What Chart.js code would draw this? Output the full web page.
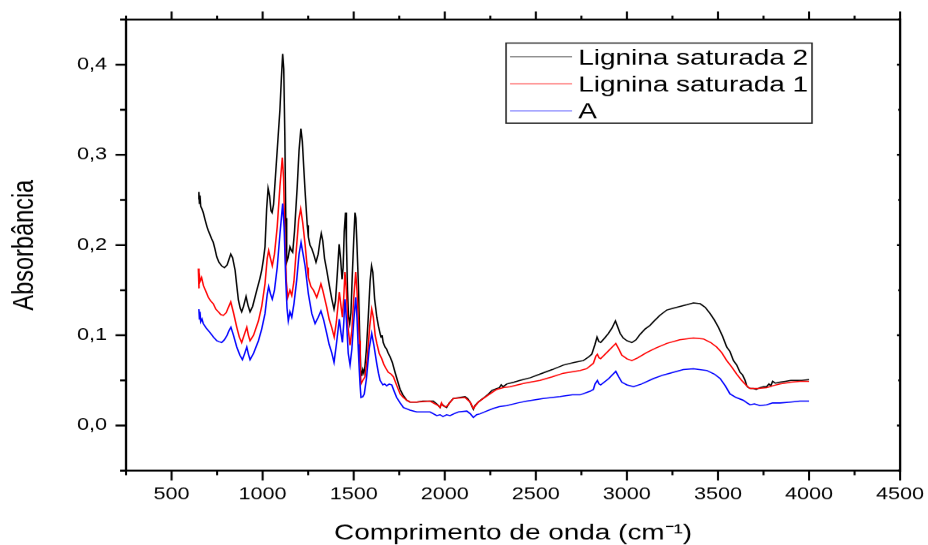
<!DOCTYPE html>
<html>
<head>
<meta charset="utf-8">
<script src="https://cdn.jsdelivr.net/npm/chart.js@4.4.0/dist/chart.umd.min.js"></script>
<style>
  html, body { margin: 0; padding: 0; background: #fff; overflow: hidden; }
  /* the plot is drawn narrow and stretched sideways */
  #wrap { width: 731px; height: 545px; transform: scaleX(1.2695); transform-origin: 0 0; }
</style>
</head>
<body>
<div id="wrap"><canvas id="myChart" width="731" height="545"></canvas></div>
<script>
// espectros FTIR: numero de onda (cm-1) e absorbancia
var sat2Wave = [647,650,653,656,660,667,674,684,695,702,710,720,729,738,748,760,775,790,805,815,825,835,849,858,867,877,885,895,909,920,931,945,968,985,995,1005,1013,1022,1030,1038,1046,1052,1060,1070,1085,1095,1103,1110,1116,1122,1127,1132,1140,1150,1158,1165,1175,1190,1200,1210,1218,1226,1233,1245,1251,1260,1270,1280,1293,1305,1315,1322,1330,1340,1352,1362,1370,1380,1392,1400,1410,1420,1428,1436,1442,1448,1455,1460,1466,1472,1478,1485,1492,1500,1507,1512,1518,1526,1533,1539,1544,1550,1556,1562,1570,1580,1590,1598,1605,1615,1627,1636,1645,1650,1656,1662,1672,1680,1690,1700,1712,1727,1740,1755,1770,1791,1809,1846,1880,1919,1937,1955,1965,1974,1982,1989,2000,2010,2025,2047,2080,2111,2125,2139,2150,2157,2165,2184,2210,2240,2260,2285,2300,2310,2320,2340,2380,2413,2470,2523,2590,2651,2710,2761,2790,2807,2825,2836,2846,2856,2878,2898,2918,2937,2950,2963,2980,3000,3027,3050,3072,3100,3127,3145,3180,3219,3255,3292,3330,3365,3402,3430,3457,3480,3502,3525,3548,3566,3585,3603,3621,3635,3649,3658,3667,3680,3694,3710,3731,3750,3767,3780,3790,3800,3815,3841,3870,3900,3930,3960,4000];
var sat2Abs = [0.251,0.259,0.246,0.255,0.243,0.240,0.236,0.228,0.220,0.216,0.212,0.207,0.203,0.196,0.187,0.181,0.177,0.175,0.178,0.184,0.190,0.186,0.172,0.155,0.139,0.130,0.126,0.132,0.143,0.133,0.126,0.132,0.150,0.163,0.172,0.185,0.198,0.240,0.263,0.255,0.238,0.236,0.245,0.275,0.320,0.350,0.385,0.412,0.395,0.320,0.230,0.181,0.186,0.198,0.194,0.192,0.215,0.265,0.305,0.329,0.315,0.285,0.260,0.222,0.209,0.200,0.196,0.190,0.181,0.190,0.205,0.213,0.205,0.185,0.172,0.160,0.151,0.140,0.129,0.138,0.168,0.201,0.185,0.162,0.175,0.215,0.236,0.205,0.150,0.120,0.113,0.125,0.165,0.205,0.236,0.230,0.200,0.155,0.100,0.061,0.055,0.062,0.058,0.066,0.085,0.120,0.160,0.177,0.170,0.140,0.120,0.110,0.102,0.098,0.100,0.092,0.087,0.085,0.080,0.076,0.070,0.059,0.050,0.040,0.034,0.028,0.026,0.026,0.027,0.027,0.027,0.024,0.022,0.020,0.024,0.023,0.021,0.020,0.025,0.030,0.031,0.032,0.030,0.026,0.021,0.018,0.022,0.026,0.030,0.035,0.039,0.041,0.042,0.045,0.043,0.046,0.048,0.050,0.053,0.057,0.062,0.067,0.070,0.072,0.076,0.079,0.090,0.098,0.093,0.092,0.097,0.102,0.108,0.116,0.109,0.102,0.097,0.094,0.092,0.095,0.101,0.107,0.111,0.115,0.122,0.128,0.130,0.132,0.134,0.136,0.135,0.131,0.124,0.117,0.109,0.099,0.087,0.082,0.072,0.067,0.059,0.056,0.050,0.044,0.042,0.041,0.041,0.040,0.042,0.043,0.043,0.046,0.044,0.049,0.047,0.048,0.049,0.050,0.050,0.050,0.051];

var sat1Wave = [647,649,652,657,665,675,690,702,715,729,743,757,770,784,800,812,825,840,858,872,885,898,913,922,931,950,977,995,1013,1025,1033,1042,1053,1065,1080,1095,1108,1115,1122,1130,1138,1150,1160,1172,1185,1198,1209,1220,1233,1245,1251,1265,1279,1297,1310,1320,1330,1352,1365,1379,1393,1405,1421,1430,1438,1445,1452,1460,1468,1480,1490,1500,1511,1518,1525,1531,1536,1540,1550,1562,1575,1588,1599,1608,1618,1627,1640,1654,1665,1675,1690,1705,1718,1737,1755,1773,1791,1809,1846,1919,1965,1974,1982,1989,2000,2010,2047,2111,2139,2157,2184,2240,2285,2320,2359,2440,2523,2590,2651,2743,2779,2816,2830,2838,2847,2856,2900,2939,2955,2972,3000,3027,3060,3109,3160,3219,3290,3365,3420,3460,3493,3520,3548,3575,3603,3630,3658,3675,3694,3720,3767,3800,3841,3900,3950,4000];
var sat1Abs = [0.174,0.152,0.170,0.160,0.164,0.155,0.148,0.142,0.138,0.135,0.129,0.126,0.123,0.122,0.125,0.131,0.137,0.125,0.109,0.098,0.092,0.100,0.109,0.100,0.094,0.100,0.116,0.132,0.157,0.185,0.194,0.186,0.177,0.190,0.220,0.265,0.297,0.275,0.210,0.160,0.142,0.150,0.144,0.160,0.195,0.228,0.240,0.225,0.201,0.175,0.164,0.154,0.150,0.142,0.150,0.157,0.150,0.131,0.118,0.109,0.098,0.115,0.148,0.133,0.120,0.140,0.170,0.150,0.110,0.089,0.105,0.140,0.170,0.150,0.120,0.094,0.065,0.046,0.050,0.054,0.075,0.110,0.129,0.120,0.100,0.091,0.080,0.074,0.068,0.064,0.059,0.057,0.054,0.044,0.035,0.031,0.028,0.026,0.026,0.027,0.022,0.020,0.025,0.022,0.021,0.021,0.030,0.031,0.026,0.019,0.026,0.034,0.040,0.042,0.043,0.047,0.050,0.054,0.058,0.061,0.063,0.069,0.077,0.079,0.075,0.074,0.083,0.091,0.085,0.078,0.074,0.072,0.075,0.081,0.086,0.091,0.095,0.097,0.096,0.092,0.087,0.081,0.072,0.065,0.057,0.050,0.044,0.041,0.041,0.041,0.042,0.044,0.046,0.048,0.049,0.049];

var aWave = [650,653,656,660,667,674,690,711,730,748,760,775,790,805,815,826,840,858,875,889,900,913,922,931,950,977,995,1013,1025,1033,1043,1053,1065,1080,1095,1110,1118,1127,1134,1141,1150,1160,1172,1187,1200,1211,1222,1233,1251,1270,1288,1305,1320,1335,1352,1365,1379,1392,1405,1421,1430,1438,1445,1452,1460,1470,1480,1490,1500,1511,1518,1524,1529,1535,1540,1550,1558,1570,1585,1599,1610,1627,1636,1645,1660,1670,1681,1695,1709,1722,1736,1755,1773,1809,1846,1919,1956,1974,1990,2010,2029,2050,2075,2121,2140,2157,2175,2194,2230,2267,2300,2340,2400,2450,2540,2633,2700,2743,2798,2816,2825,2838,2847,2856,2900,2939,2955,2972,3000,3036,3080,3145,3200,3255,3310,3365,3438,3480,3512,3540,3566,3600,3639,3660,3676,3700,3730,3767,3800,3841,3900,3950,4000];
var aAbs = [0.129,0.118,0.126,0.115,0.118,0.113,0.108,0.103,0.098,0.094,0.093,0.092,0.095,0.100,0.105,0.109,0.100,0.087,0.078,0.073,0.079,0.087,0.079,0.073,0.080,0.094,0.107,0.124,0.145,0.154,0.146,0.140,0.150,0.175,0.212,0.246,0.220,0.161,0.130,0.116,0.126,0.120,0.135,0.161,0.190,0.203,0.190,0.177,0.146,0.124,0.113,0.120,0.127,0.117,0.102,0.090,0.081,0.070,0.090,0.118,0.103,0.092,0.112,0.140,0.118,0.080,0.067,0.085,0.115,0.142,0.120,0.090,0.068,0.045,0.031,0.032,0.035,0.052,0.085,0.102,0.090,0.068,0.058,0.050,0.045,0.046,0.044,0.046,0.045,0.038,0.031,0.025,0.020,0.017,0.015,0.015,0.011,0.012,0.010,0.012,0.011,0.013,0.015,0.016,0.013,0.009,0.012,0.013,0.016,0.019,0.021,0.022,0.025,0.027,0.030,0.032,0.034,0.034,0.038,0.040,0.046,0.050,0.046,0.045,0.052,0.060,0.054,0.048,0.045,0.043,0.046,0.052,0.056,0.059,0.062,0.063,0.061,0.057,0.052,0.044,0.035,0.031,0.028,0.025,0.023,0.024,0.022,0.023,0.025,0.025,0.026,0.027,0.027];

var seriesNames = ['Lignina saturada 2', 'Lignina saturada 1', 'A'];
var seriesColors = ['#000000', '#ff0000', '#0000ff'];

function toPoints(xs, ys) {
    return xs.map(function (v, i) { return { x: v, y: ys[i] }; });
}

var fontFam = "'Liberation Sans', Arial, sans-serif";

// moldura com marcas e a legenda dentro do grafico
var frameAndLegend = {
    id: 'frameAndLegend',
    afterDraw: function (chart) {
        var ctx = chart.ctx, a = chart.chartArea;
        var sx = chart.scales.x, sy = chart.scales.y;
        ctx.save();
        ctx.strokeStyle = '#000';

        ctx.lineWidth = 1.6;
        sx.ticks.forEach(function (t) {
            var px = sx.getPixelForValue(t.value);
            var major = t.value % 500 === 0;
            ctx.beginPath();
            ctx.moveTo(px, a.bottom); ctx.lineTo(px, a.bottom + (major ? 10 : 4.5));
            ctx.moveTo(px, a.top); ctx.lineTo(px, a.top - (major ? 8 : 4));
            ctx.stroke();
        });
        ctx.lineWidth = 2;
        sy.ticks.forEach(function (t) {
            var py = sy.getPixelForValue(t.value);
            var major = Math.round(t.value * 100) % 10 === 0;
            ctx.beginPath();
            ctx.moveTo(a.left, py); ctx.lineTo(a.left - (major ? 8.3 : 4.7), py);
            ctx.moveTo(a.right, py); ctx.lineTo(a.right - (major ? 2.5 : 1.5), py);
            ctx.stroke();
        });

        ctx.lineWidth = 1.8;
        ctx.strokeRect(a.left, a.top, a.right - a.left, a.bottom - a.top);

        // legenda
        var bx = 398.6, by = 43, bw = 241, bh = 80;
        ctx.fillStyle = '#fff';
        ctx.fillRect(bx, by, bw, bh);
        ctx.lineWidth = 1.2;
        ctx.strokeStyle = '#222';
        ctx.strokeRect(bx, by, bw, bh);
        ctx.font = '22px ' + fontFam;
        ctx.textBaseline = 'alphabetic';
        ctx.textAlign = 'left';
        chart.data.datasets.forEach(function (ds, i) {
            var ly = 56.7 + i * 27;
            ctx.strokeStyle = ds.borderColor;
            ctx.lineWidth = 1;
            ctx.globalAlpha = 0.6;
            ctx.beginPath();
            ctx.moveTo(401.7, ly); ctx.lineTo(450.6, ly);
            ctx.stroke();
            ctx.globalAlpha = 1;
            ctx.fillStyle = '#000';
            ctx.fillText(ds.label, 455.5, ly + 7.8);
        });
        ctx.restore();
    }
};

var ctx = document.getElementById('myChart').getContext('2d');
var ftirChart = new Chart(ctx, {
    type: 'line',
    data: {
        datasets: [
            { label: seriesNames[0], data: toPoints(sat2Wave, sat2Abs), borderColor: seriesColors[0], order: 2 },
            { label: seriesNames[1], data: toPoints(sat1Wave, sat1Abs), borderColor: seriesColors[1], order: 1 },
            { label: seriesNames[2], data: toPoints(aWave, aAbs), borderColor: seriesColors[2], order: 0 }
        ]
    },
    options: {
        responsive: false,
        animation: false,
        devicePixelRatio: 1.2695,
        layout: { padding: { top: 19.5, right: 22, left: 0, bottom: 0 } },
        elements: {
            point: { radius: 0 },
            line: { borderWidth: 1.2, tension: 0, fill: false }
        },
        plugins: { legend: { display: false }, tooltip: { enabled: false } },
        scales: {
            x: {
                type: 'linear',
                min: 250,
                max: 4500,
                afterFit: function (s) {
                    s.height = 75;
                    s.paddingLeft = 0;
                    s.paddingRight = 0;
                },
                grid: { display: false, drawTicks: false },
                border: { display: false },
                ticks: {
                    stepSize: 250,
                    autoSkip: false,
                    maxRotation: 0,
                    padding: 14,
                    color: '#000',
                    font: { family: fontFam, size: 17 },
                    callback: function (v) { return v % 500 === 0 ? String(v) : ''; }
                },
                title: {
                    display: true,
                    text: 'Comprimento de onda (cm\u207B\u00B9)',
                    color: '#000',
                    font: { family: fontFam, size: 22, lineHeight: 1.1 },
                    padding: { top: 4, bottom: 0 }
                }
            },
            y: {
                min: -0.05,
                max: 0.45,
                afterFit: function (s) {
                    s.width = 99.25;
                    s.paddingTop = 0;
                    s.paddingBottom = 0;
                },
                grid: { display: false, drawTicks: false },
                border: { display: false },
                ticks: {
                    stepSize: 0.05,
                    autoSkip: false,
                    padding: 15,
                    color: '#000',
                    font: { family: fontFam, size: 17 },
                    callback: function (v) {
                        var k = Math.round(v * 100);
                        if (k % 10 !== 0 || k < 0) return '';
                        return (k / 100).toFixed(1).replace('.', ',');
                    }
                },
                title: {
                    display: true,
                    text: 'Absorbância',
                    color: '#000',
                    font: { family: fontFam, size: 23.5 },
                    padding: { top: 5.5, bottom: 0 }
                }
            }
        }
    },
    plugins: [frameAndLegend]
});
</script>
</body>
</html>
